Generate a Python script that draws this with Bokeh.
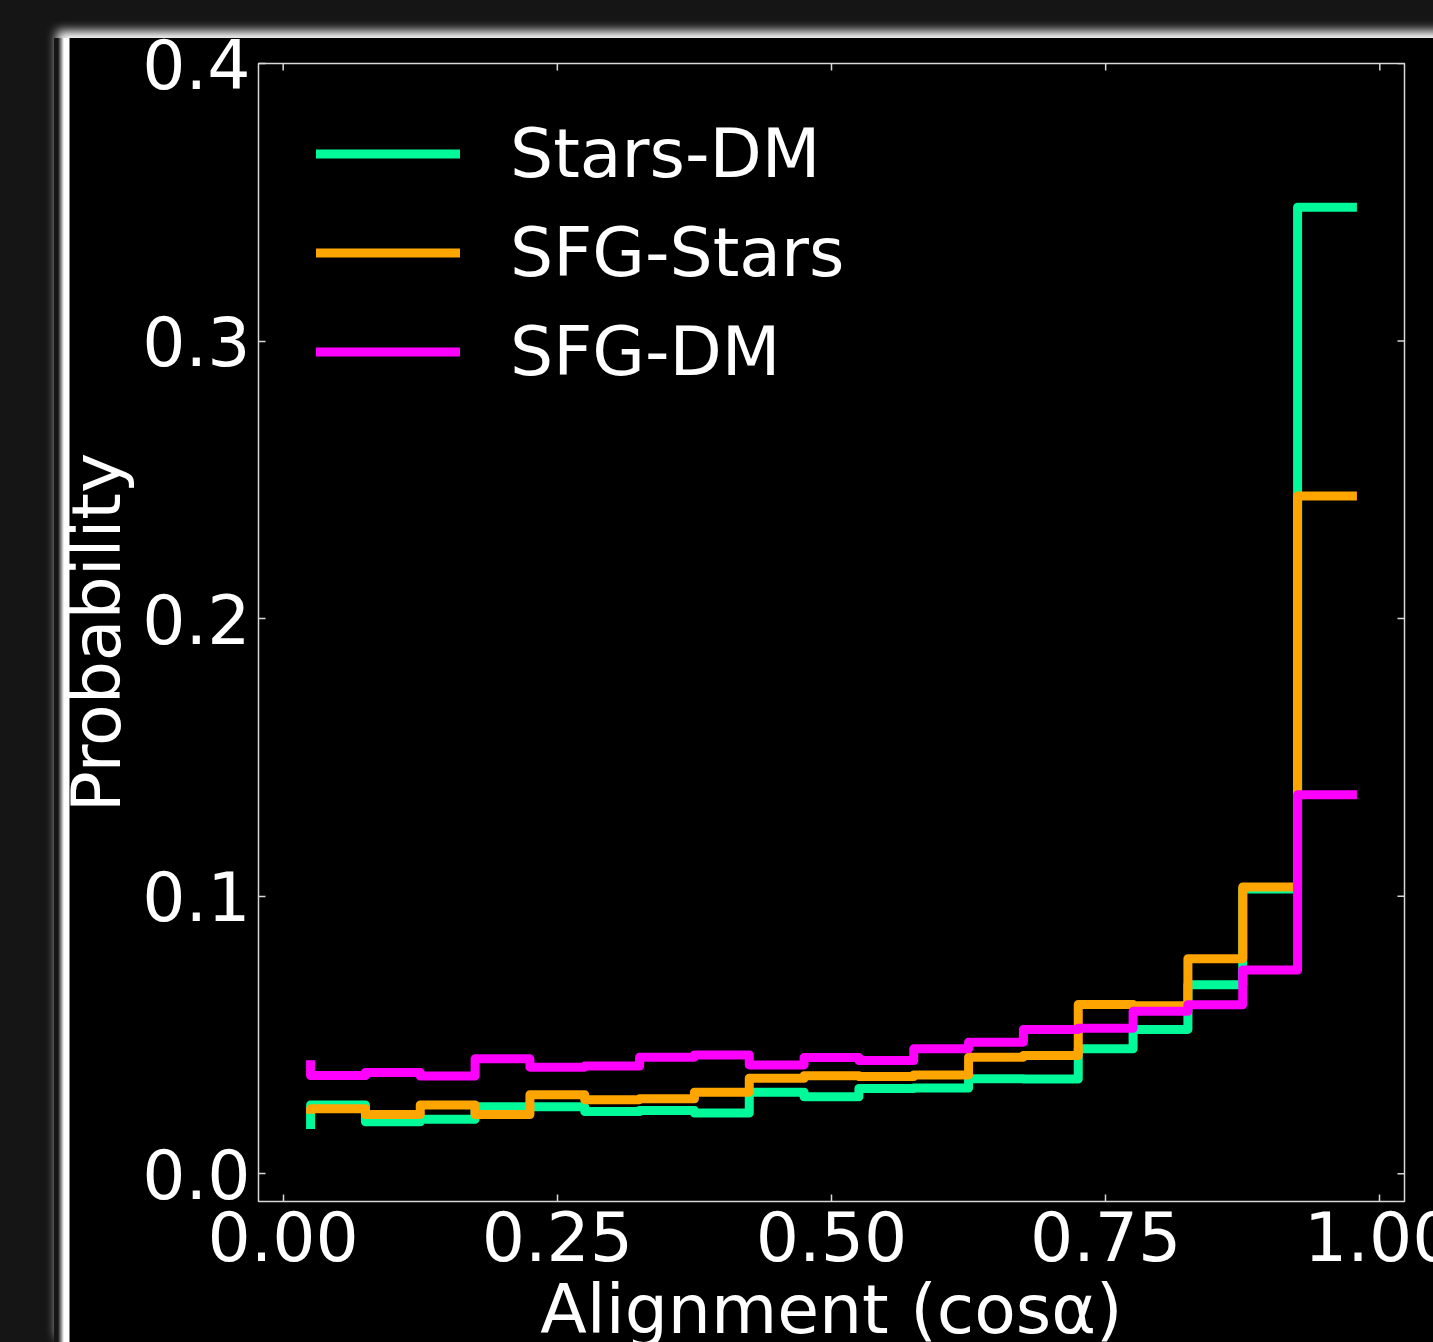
from bokeh.plotting import figure
from bokeh.models import Range1d, FixedTicker, Legend, LegendItem
from bokeh.layouts import column
from bokeh.embed import file_html
from bokeh.resources import INLINE

# Bin centres of the cos(alpha) histogram (steps drawn "before" each point)
x_centres = [0.025, 0.075, 0.125, 0.175, 0.225, 0.275, 0.325, 0.375, 0.425, 0.475,
             0.525, 0.575, 0.625, 0.675, 0.725, 0.775, 0.825, 0.875, 0.925, 0.975]

stars_dm = [0.0177, 0.0248, 0.0187, 0.0196, 0.0241, 0.0241, 0.0224, 0.0228, 0.0219, 0.0294,
            0.0277, 0.0307, 0.0309, 0.0342, 0.0341, 0.0450, 0.0520, 0.0681, 0.1026, 0.3482]
sfg_stars = [0.0232, 0.0234, 0.0213, 0.0248, 0.0213, 0.0285, 0.0267, 0.0270, 0.0294, 0.0344,
             0.0353, 0.0350, 0.0356, 0.0420, 0.0426, 0.0610, 0.0605, 0.0775, 0.1033, 0.2442]
sfg_dm = [0.0393, 0.0354, 0.0365, 0.0352, 0.0414, 0.0384, 0.0388, 0.0420, 0.0428, 0.0392,
          0.0419, 0.0408, 0.0450, 0.0474, 0.0520, 0.0524, 0.0585, 0.0609, 0.0734, 0.1365]

series_names = ["Stars-DM", "SFG-Stars", "SFG-DM"]
series_colors = ["#00FA9A", "#FFA500", "#FF00FF"]

x_ticks = [0.0, 0.25, 0.5, 0.75, 1.0]
x_tick_labels = ["0.00", "0.25", "0.50", "0.75", "1.00"]
y_ticks = [0.0, 0.1, 0.2, 0.3, 0.4]
y_tick_labels = ["0.0", "0.1", "0.2", "0.3", "0.4"]

X_MIN, X_MAX = -0.0225, 1.0225
Y_MIN, Y_MAX = -0.01, 0.40

FONT = "DejaVu Sans"
FS = "68px"
EDGE = "#d8d8d8"
FIG_LEFT = 54
PANEL_EDGE = 70 - FIG_LEFT   # where the black panel starts inside the figure

p = figure(width=1419, height=1313,
           x_range=Range1d(X_MIN, X_MAX), y_range=Range1d(Y_MIN, Y_MAX),
           output_backend="svg", toolbar_location=None,
           min_border_left=0, min_border_right=69,
           min_border_top=25, min_border_bottom=0,
           background_fill_color="black", border_fill_alpha=0,
           outline_line_color=EDGE, outline_line_width=1.5,
           margin=(38, 0, 0, FIG_LEFT),
           styles={
               "background": "linear-gradient(to right, rgba(255,255,255,0) 0px, "
                             f"rgba(255,255,255,0) {PANEL_EDGE - 12}px, "
                             f"#ffffff {PANEL_EDGE - 6}px, #ffffff {PANEL_EDGE - 1}px, "
                             f"#000000 {PANEL_EDGE}px, #000000 100%)",
               "box-shadow": "0 -10px 10px -3px #ffffff",
           })
p.grid.visible = False

renderers = []
for ys, color in zip([stars_dm, sfg_stars, sfg_dm], series_colors):
    r = p.step(x_centres, ys, mode="before", line_color=color, line_width=9,
               line_join="round", line_cap="square")
    renderers.append(r)


def style_axis(ax, ticks, labels):
    ax.ticker = FixedTicker(ticks=ticks)
    ax.major_label_overrides = {t: l for t, l in zip(ticks, labels)}
    ax.axis_line_color = None
    ax.major_tick_line_color = EDGE
    ax.major_tick_line_width = 1.5
    ax.major_tick_in = 7
    ax.major_tick_out = 0
    ax.minor_tick_line_color = None
    ax.major_label_text_color = "white"
    ax.major_label_text_font = FONT
    ax.major_label_text_font_size = FS
    ax.axis_label_text_color = "white"
    ax.axis_label_text_font = FONT
    ax.axis_label_text_font_size = FS
    ax.axis_label_text_font_style = "normal"


xaxis = p.xaxis[0]
style_axis(xaxis, x_ticks, x_tick_labels)
xaxis.major_label_standoff = 9
xaxis.axis_label = "Alignment (cos\u03b1)"
xaxis.axis_label_standoff = 6

yaxis = p.yaxis[0]
style_axis(yaxis, y_ticks, y_tick_labels)
yaxis.major_label_standoff = 8
yaxis.axis_label = "Probability"
yaxis.axis_label_standoff = 3

# Inward tick marks mirrored on the top and right edges of the frame
TICK_DY = 7 * (Y_MAX - Y_MIN) / 1137
TICK_DX = 7 * (X_MAX - X_MIN) / 1146
p.segment(x0=x_ticks, x1=x_ticks, y0=[Y_MAX] * len(x_ticks),
          y1=[Y_MAX - TICK_DY] * len(x_ticks), line_color=EDGE, line_width=1.5)
p.segment(x0=[X_MAX] * len(y_ticks), x1=[X_MAX - TICK_DX] * len(y_ticks),
          y0=y_ticks, y1=y_ticks, line_color=EDGE, line_width=1.5)

legend = Legend(items=[LegendItem(label=n, renderers=[r])
                       for n, r in zip(series_names, renderers)],
                location=(58, 800), background_fill_alpha=0, border_line_alpha=0,
                padding=0, margin=0, spacing=0,
                glyph_width=144, glyph_height=99, label_height=99,
                label_standoff=50, label_text_color="white",
                label_text_font=FONT, label_text_font_size=FS)
p.add_layout(legend)

page = column(p, width=1433, height=1342,
              styles={"background-color": "#151515", "overflow": "hidden"})

open("out.html", "w").write(file_html(page, INLINE))
